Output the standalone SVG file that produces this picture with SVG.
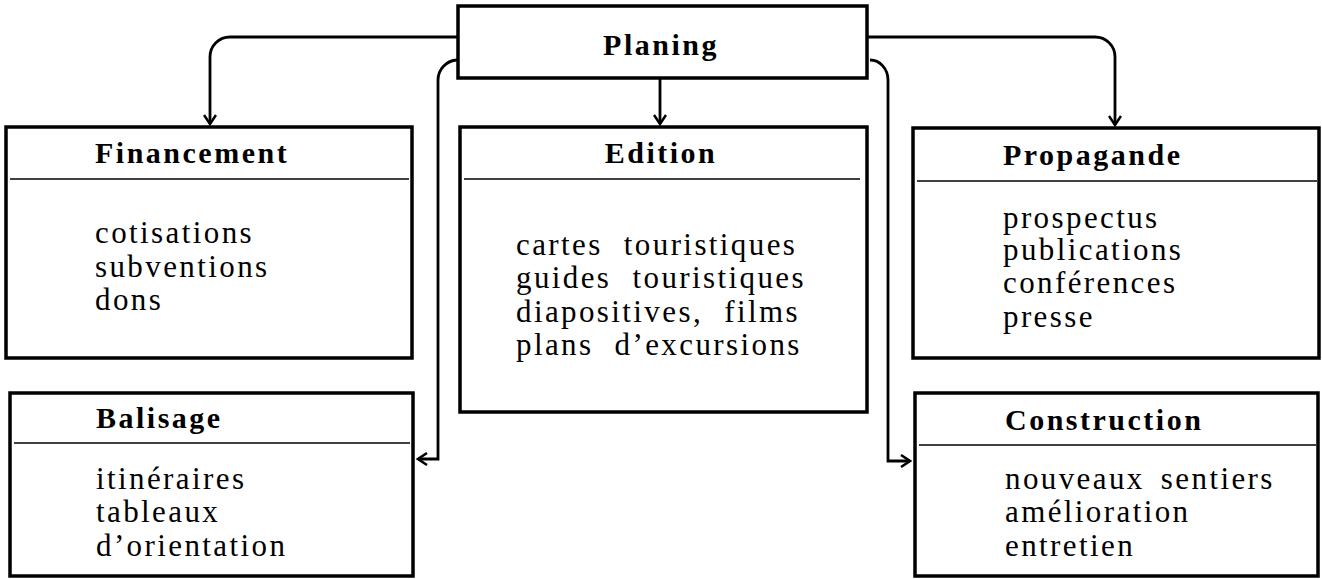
<svg xmlns="http://www.w3.org/2000/svg" width="1322" height="579" viewBox="0 0 1322 579">
<style>
.box{fill:#fff;stroke:#000;stroke-width:3.5}
.div{stroke:#000;stroke-width:1.6}
text{font-family:'Liberation Serif','DejaVu Serif',serif;fill:#000}
.title{font-weight:bold;font-size:30px;letter-spacing:2.5px}
.item{font-size:31px;letter-spacing:2.4px;word-spacing:6px}
.wide{word-spacing:11px}
.con{fill:none;stroke:#000;stroke-width:2.8}
</style>
<defs>
<marker id="arr" viewBox="-11 -7 13 14" refX="0" refY="0" markerWidth="13" markerHeight="14" markerUnits="userSpaceOnUse" orient="auto">
<path d="M-9,-6 L0,0 L-9,6" fill="none" stroke="#000" stroke-width="2.5"/>
</marker>
</defs>
<rect width="1322" height="579" fill="#fff"/>
<g id="connectors">
<path class="con" d="M458,37 H230 A20,20 0 0 0 210,57 V124" marker-end="url(#arr)"/>
<path class="con" d="M458,60 H457 A20,20 0 0 0 438,80 V459 H418" marker-end="url(#arr)"/>
<path class="con" d="M660,78 V124" marker-end="url(#arr)"/>
<path class="con" d="M867,37 H1095 A20,20 0 0 1 1115,57 V125" marker-end="url(#arr)"/>
<path class="con" d="M870,60 A18,20 0 0 1 888,80 V461 H910" marker-end="url(#arr)"/>
</g>
<g id="planing">
<rect class="box" x="458" y="6" width="409" height="72"/>
<text class="title" x="661" y="55" text-anchor="middle">Planing</text>
</g>
<g id="financement">
<rect class="box" x="6" y="127" width="406" height="231"/>
<line class="div" x1="10" y1="179" x2="409" y2="179"/>
<text class="title" x="95" y="163">Financement</text>
<text class="item" x="95" y="243">cotisations</text>
<text class="item" x="95" y="277">subventions</text>
<text class="item" x="95" y="310">dons</text>
</g>
<g id="edition">
<rect class="box" x="460" y="127" width="407" height="285"/>
<line class="div" x1="464" y1="179" x2="860" y2="179"/>
<text class="title" x="661" y="163" text-anchor="middle">Edition</text>
<text class="item wide" x="516" y="255">cartes touristiques</text>
<text class="item wide" x="516" y="288">guides touristiques</text>
<text class="item wide" x="516" y="322">diapositives, films</text>
<text class="item wide" x="516" y="355">plans d’excursions</text>
</g>
<g id="propagande">
<rect class="box" x="913" y="128" width="406" height="230"/>
<line class="div" x1="917" y1="181" x2="1317" y2="181"/>
<text class="title" x="1003" y="165">Propagande</text>
<text class="item" x="1003" y="228">prospectus</text>
<text class="item" x="1003" y="260">publications</text>
<text class="item" x="1003" y="293">conférences</text>
<text class="item" x="1003" y="327">presse</text>
</g>
<g id="balisage">
<rect class="box" x="10" y="393" width="403" height="183"/>
<line class="div" x1="14" y1="443" x2="410" y2="443"/>
<text class="title" x="96" y="428">Balisage</text>
<text class="item" x="96" y="489">itinéraires</text>
<text class="item" x="96" y="522">tableaux</text>
<text class="item" x="96" y="556">d’orientation</text>
</g>
<g id="construction">
<rect class="box" x="915" y="393" width="403" height="183"/>
<line class="div" x1="919" y1="445" x2="1316" y2="445"/>
<text class="title" x="1005" y="430">Construction</text>
<text class="item" x="1005" y="489">nouveaux sentiers</text>
<text class="item" x="1005" y="522">amélioration</text>
<text class="item" x="1005" y="556">entretien</text>
</g>
</svg>
